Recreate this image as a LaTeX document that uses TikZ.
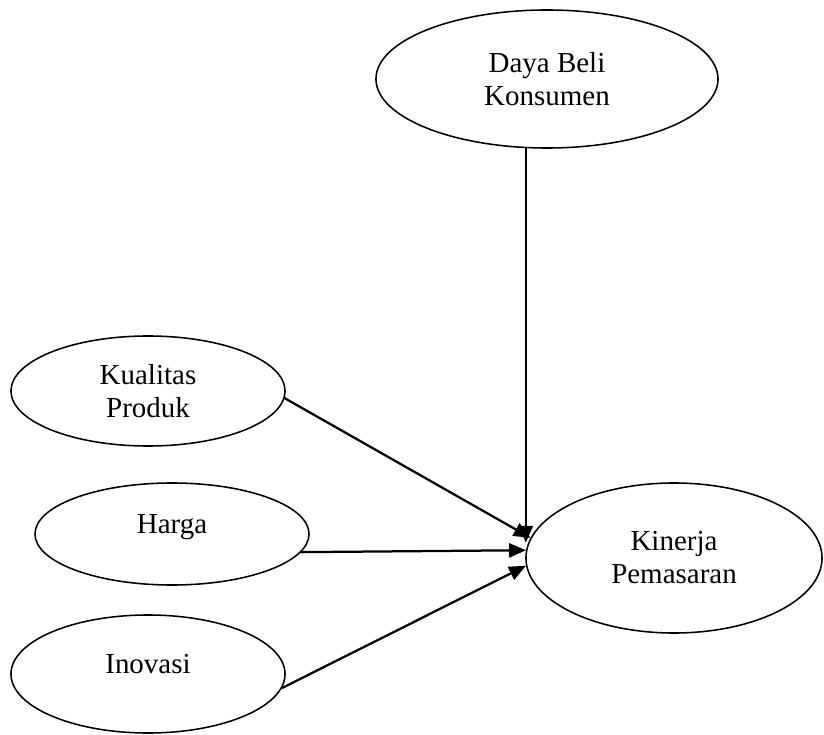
\documentclass[tikz,border=0pt]{standalone}
\usepackage{fontspec}
\setmainfont{Liberation Serif}
\usetikzlibrary{shapes.geometric,arrows.meta}

\begin{document}
\begin{tikzpicture}[x=0.025cm,y=-0.025cm]
            \useasboundingbox (0,0) rectangle (824,735);
            \begin{scope}[every node/.style={ellipse,draw,line width=1.1pt,inner sep=0pt,align=center,font=\fontsize{20.6}{23.4}\selectfont}]
                \node[minimum width=8.55cm,minimum height=3.45cm] (Daya) at (547, 79) {Daya Beli\\Konsumen};
                \node[minimum width=6.85cm,minimum height=2.75cm] (Kualitas) at (148, 391) {Kualitas\\Produk};
                \node[minimum width=6.85cm,minimum height=2.55cm,text depth=14pt] (Harga) at (172, 534) {Harga};
                \node[minimum width=6.85cm,minimum height=2.95cm,text depth=15pt] (Inovasi) at (148, 674) {Inovasi};
                \node[minimum width=7.4cm,minimum height=3.75cm] (Kinerja) at (674, 558) {Kinerja\\Pemasaran};
            \end{scope}
            \path [-{Triangle[length=12pt,width=10pt]}] (Daya.253) edge[draw=black,line width=1.6pt] (Daya.253 |- Kinerja.174);
            \path [-{Triangle[length=12pt,width=10pt]}] (Kualitas.-3) edge[draw=black,line width=1.6pt] (Kinerja.172);
            \path [-{Triangle[length=12pt,width=10pt]}] (Harga.-8) edge[draw=black,line width=1.6pt] (Kinerja.177);
            \path [-{Triangle[length=12pt,width=10pt]}] (Inovasi.-6) edge[draw=black,line width=1.6pt] (Kinerja.183);
        \end{tikzpicture}
\end{document}
